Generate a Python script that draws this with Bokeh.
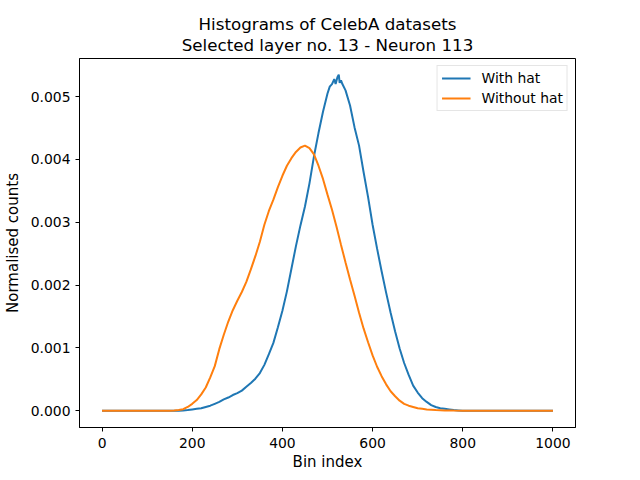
from bokeh.plotting import figure
from bokeh.models import Title, FixedTicker, PrintfTickFormatter, Range1d, Legend, LegendItem
from bokeh.embed import file_html
from bokeh.resources import INLINE
import numpy as np

# values, counts in units of 1e-3
with_hat_bins = [0, 170, 180, 190, 200, 210, 220, 230, 240, 250, 260, 270, 280, 290, 300,
                 310, 320, 330, 340, 350, 360, 370, 380, 390, 400, 410, 420, 430, 440, 450,
                 460, 470, 480, 490, 500, 505, 510, 515, 518, 522, 525, 527, 530, 533, 540,
                 550, 560, 570, 580, 590,
                 600, 610, 620, 630, 640, 650, 660, 670, 680, 690, 700, 710, 720, 730, 740,
                 750, 760, 770, 780, 790, 800, 1000]
with_hat_counts = [0, 0, 0.005, 0.01, 0.02, 0.03, 0.04, 0.06, 0.08, 0.11, 0.14, 0.18, 0.21, 0.25, 0.28,
                   0.32, 0.38, 0.44, 0.51, 0.60, 0.73, 0.90, 1.08, 1.33, 1.59, 1.90, 2.26, 2.62, 2.95, 3.25,
                   3.62, 4.05, 4.42, 4.76, 5.05, 5.16, 5.20, 5.28, 5.20, 5.31, 5.35, 5.22, 5.26, 5.20, 5.10,
                   4.86, 4.51, 4.22, 3.80, 3.40,
                   2.96, 2.58, 2.22, 1.88, 1.56, 1.26, 0.99, 0.76, 0.57, 0.40, 0.29, 0.20, 0.14, 0.09, 0.06,
                   0.04, 0.03, 0.02, 0.01, 0.005, 0, 0]

without_hat_bins = [0, 150, 160, 170, 180, 190, 200, 210, 220, 230, 240, 250, 260, 270, 280,
                    290, 300, 310, 320, 330, 340, 350, 360, 370, 380, 390, 400, 410, 420, 430,
                    440, 450, 460, 470, 480, 490, 500, 510, 520, 530, 540, 550, 560, 570, 580,
                    590, 600, 610, 620, 630, 640, 650, 660, 670, 680, 690, 700, 710, 720, 730,
                    740, 750, 760, 780, 800, 1000]
without_hat_counts = [0, 0, 0.003, 0.01, 0.025, 0.06, 0.11, 0.17, 0.26, 0.37, 0.53, 0.71, 0.98, 1.21, 1.42,
                      1.60, 1.75, 1.89, 2.05, 2.25, 2.46, 2.69, 2.96, 3.18, 3.36, 3.56, 3.74, 3.90, 4.02, 4.12,
                      4.19, 4.22, 4.18, 4.08, 3.90, 3.69, 3.44, 3.20, 2.93, 2.64, 2.36, 2.09, 1.83, 1.56, 1.31,
                      1.09, 0.88, 0.70, 0.55, 0.42, 0.31, 0.23, 0.16, 0.11, 0.08, 0.06, 0.04, 0.03, 0.02, 0.015,
                      0.01, 0.008, 0.005, 0.002, 0, 0]

x_ticks = [0, 200, 400, 600, 800, 1000]
y_ticks = [0.0, 0.001, 0.002, 0.003, 0.004, 0.005]
title_lines = ["Histograms of CelebA datasets", "Selected layer no. 13 - Neuron 113"]
series_names = ["With hat", "Without hat"]
colors = ["#1f77b4", "#ff7f0e"]

FONT = "DejaVu Sans"

p = figure(frame_width=496, frame_height=369, output_backend="svg", toolbar_location=None,
           min_border_left=72, min_border_right=56, min_border_top=58, min_border_bottom=45,
           x_range=Range1d(-50, 1050), y_range=Range1d(-0.000267, 0.005607))
p.title.visible = False

t2 = Title(text=title_lines[1], align="center", text_font=FONT, text_font_size="16.7px",
           text_font_style="normal", text_color="black", standoff=7, text_line_height=1.0)
t1 = Title(text=title_lines[0], align="center", text_font=FONT, text_font_size="16.7px",
           text_font_style="normal", text_color="black", standoff=-8, text_line_height=1.0)
p.add_layout(t2, "above")
p.add_layout(t1, "above")

p.xgrid.visible = False
p.ygrid.visible = False
p.outline_line_color = "black"
p.outline_line_width = 1
p.background_fill_color = "white"
p.border_fill_color = "white"

for ax in (p.xaxis[0], p.yaxis[0]):
    ax.axis_line_color = "black"
    ax.major_tick_line_color = "black"
    ax.major_tick_out = 4
    ax.major_tick_in = 0
    ax.minor_tick_line_color = None
    ax.major_label_text_font = FONT
    ax.major_label_text_font_size = "13.9px"
    ax.major_label_text_color = "black"
    ax.axis_label_text_font = FONT
    ax.axis_label_text_font_size = "15px"
    ax.axis_label_text_font_style = "normal"
    ax.axis_label_text_color = "black"

p.xaxis.ticker = FixedTicker(ticks=x_ticks)
p.yaxis.ticker = FixedTicker(ticks=y_ticks)
p.yaxis.formatter = PrintfTickFormatter(format="%.3f")
p.xaxis.major_label_standoff = 6
p.yaxis.major_label_standoff = 5
p.xaxis.axis_label = "Bin index"
p.yaxis.axis_label = "Normalised counts"
p.xaxis.axis_label_standoff = 2
p.yaxis.axis_label_standoff = 6

r1 = p.line(with_hat_bins, np.array(with_hat_counts) * 1e-3, line_color=colors[0], line_width=2)
r2 = p.line(without_hat_bins, np.array(without_hat_counts) * 1e-3, line_color=colors[1], line_width=2)

legend = Legend(items=[LegendItem(label=series_names[0], renderers=[r1]),
                       LegendItem(label=series_names[1], renderers=[r2])],
                location="top_right")
legend.margin = 7
legend.padding = 4
legend.spacing = 4
legend.glyph_width = 29
legend.glyph_height = 14
legend.label_height = 14
legend.label_standoff = 11
legend.label_text_font = FONT
legend.label_text_font_size = "13.9px"
legend.label_text_color = "black"
legend.border_line_color = "#cccccc"
legend.border_line_width = 1
legend.background_fill_alpha = 0.8
p.add_layout(legend)

open("out.html", "w").write(file_html(p, INLINE))
